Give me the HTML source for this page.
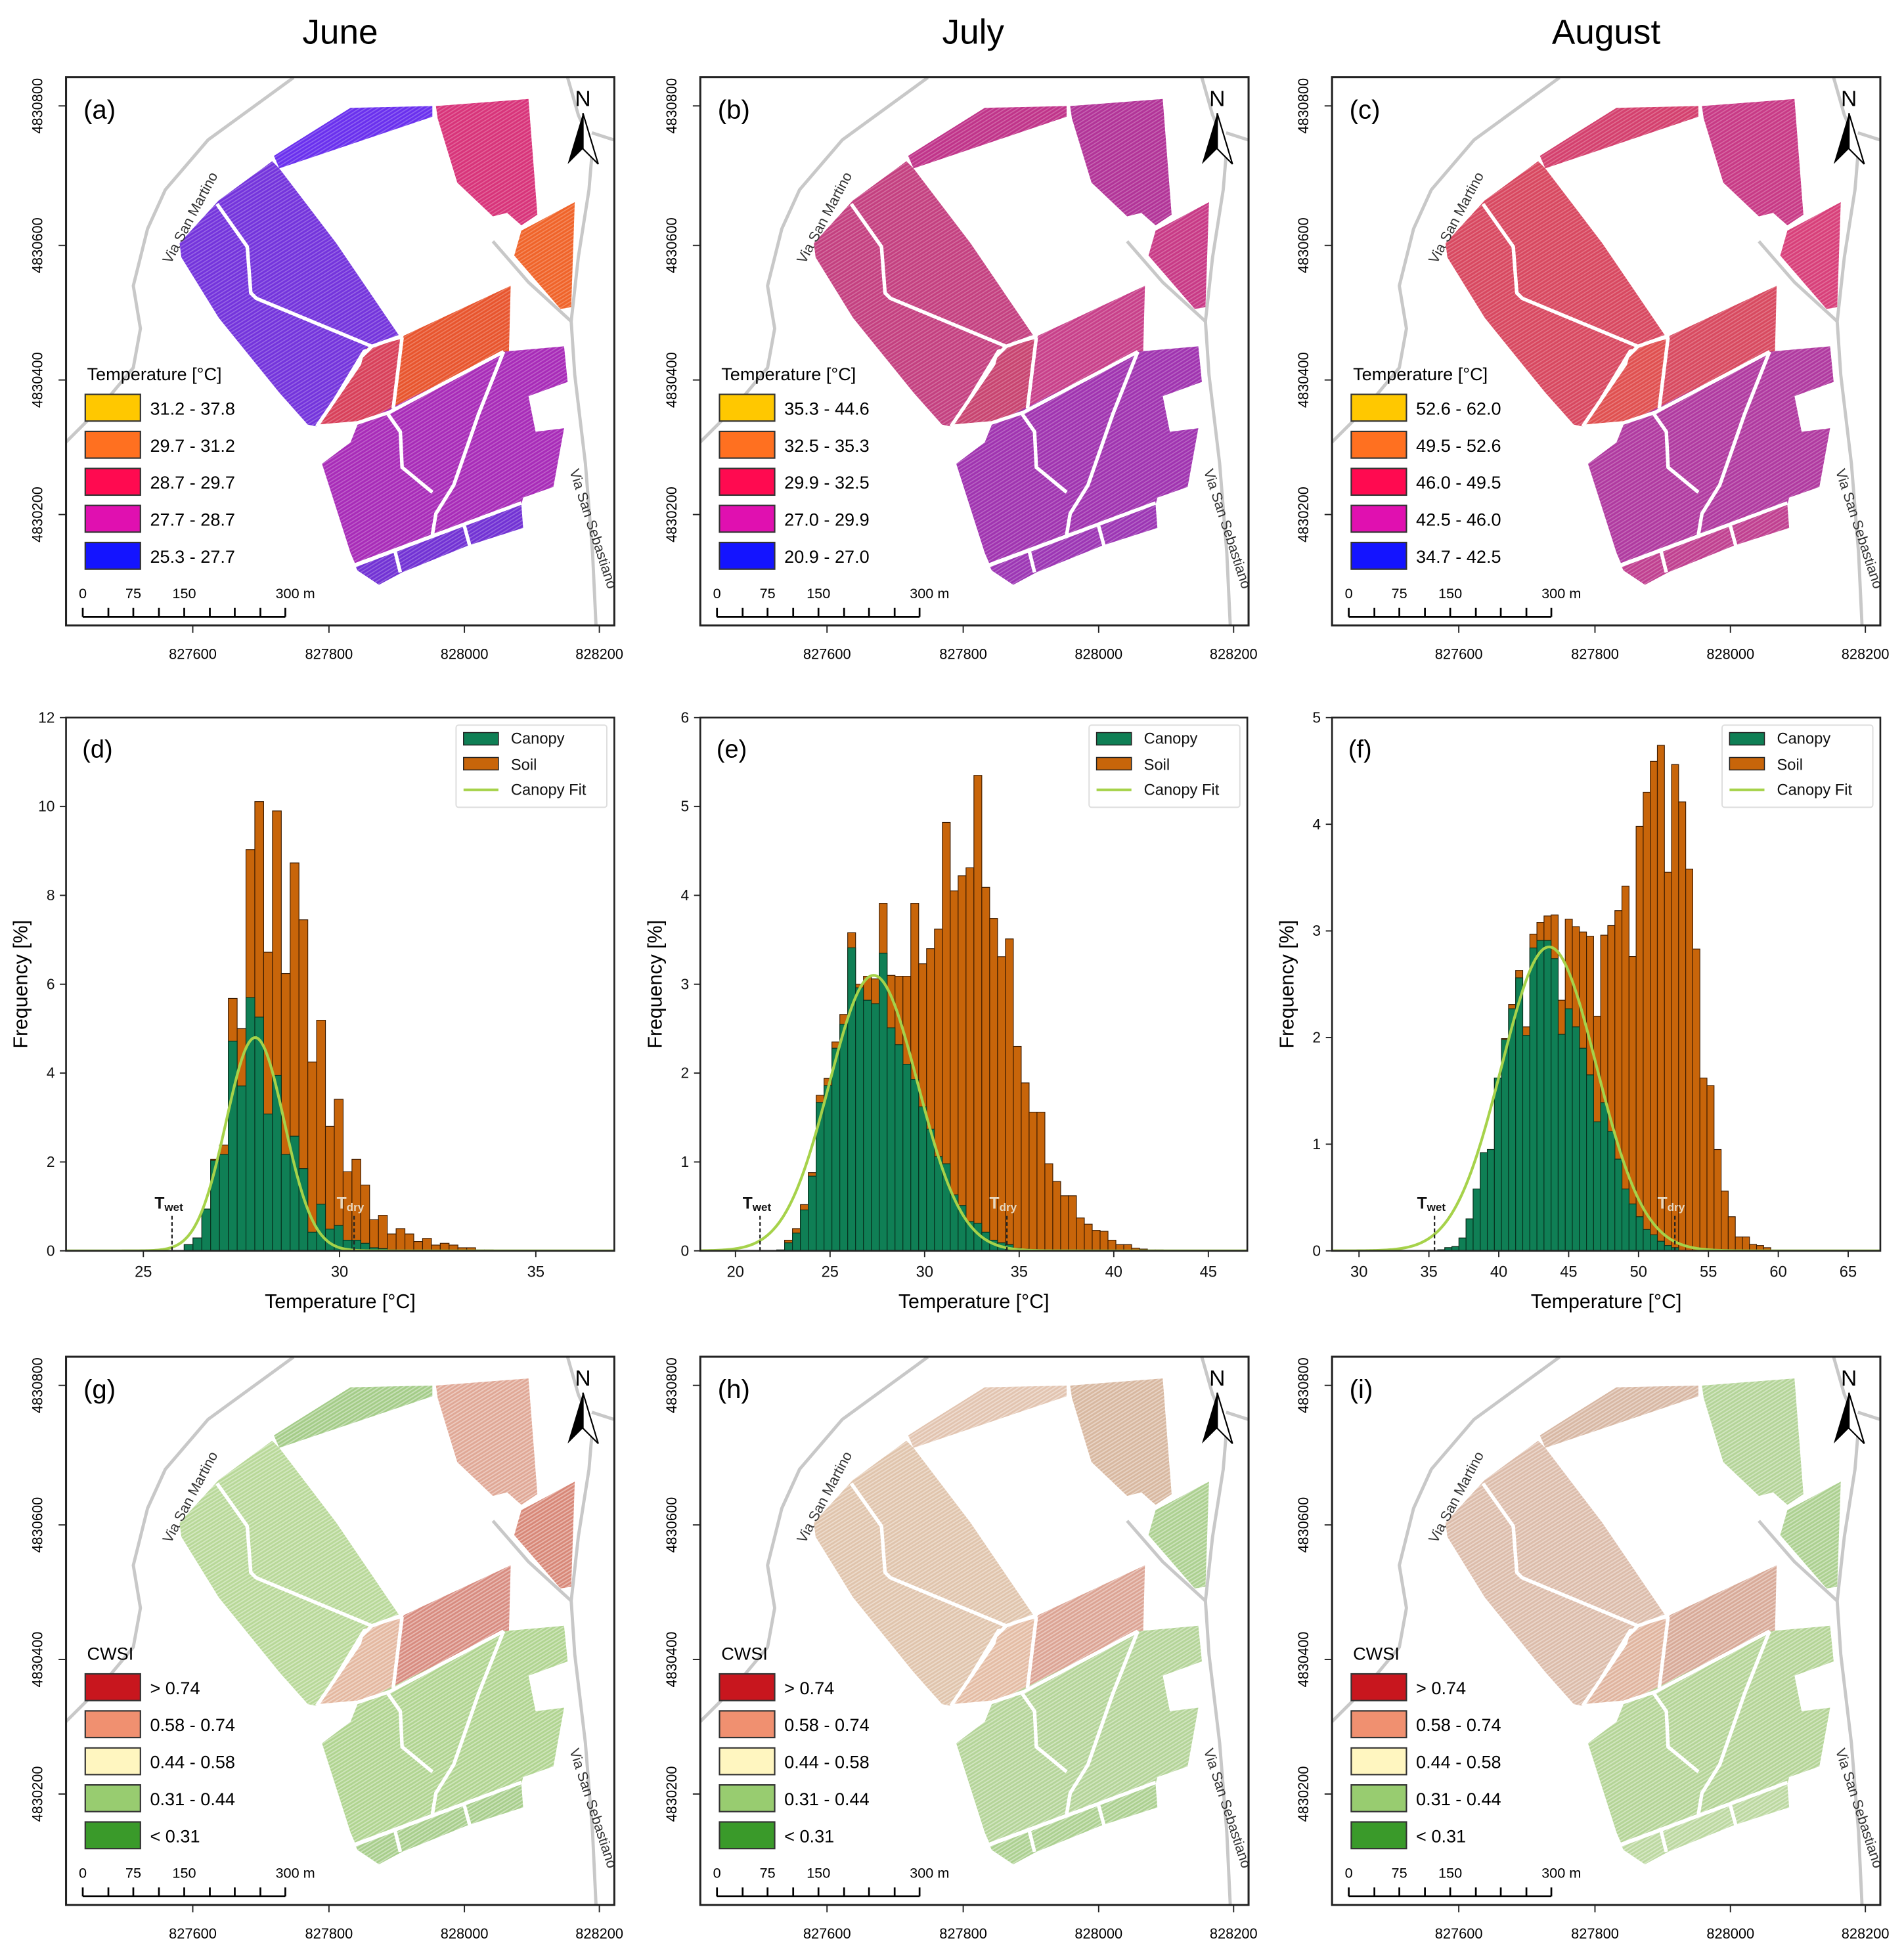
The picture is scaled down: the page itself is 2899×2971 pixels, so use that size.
<!DOCTYPE html>
<html><head><meta charset="utf-8"><title>Thermal maps, histograms and CWSI</title>
<style>
html,body{margin:0;padding:0;background:#fff;}
svg{display:block;font-family:"Liberation Sans",Arial,sans-serif;}
</style></head>
<body>
<svg id="fig" xmlns="http://www.w3.org/2000/svg" width="2899" height="2971" viewBox="0 0 1528 1566" preserveAspectRatio="none">
<defs>
<pattern id="rows" patternUnits="userSpaceOnUse" width="9" height="9" patternTransform="rotate(-32)">
<rect x="0" y="0" width="9" height="3" fill="rgba(255,255,255,0.25)"/>
</pattern>
<pattern id="rowsw" patternUnits="userSpaceOnUse" width="9" height="9" patternTransform="rotate(-32)">
<rect x="0" y="0" width="9" height="3.5" fill="rgba(255,255,255,0.4)"/>
</pattern>
</defs>
<g>
<text x="273" y="35" font-size="28" text-anchor="middle">June</text>
<text x="781" y="35" font-size="28" text-anchor="middle">July</text>
<text x="1289" y="35" font-size="28" text-anchor="middle">August</text>
</g>
<g id="maps"></g>
<g id="hists"></g>
</svg>
<script>
// ---------------- Histogram data ----------------
const dStart = 26.04, dWidth = 0.225;
const dSoil = [0.14,0.29,0.94,2.06,2.38,5.68,5.0,9.03,10.11,6.72,9.9,6.24,8.73,7.45,4.25,5.19,2.8,3.41,1.78,2.06,1.48,0.7,0.8,0.38,0.5,0.38,0.21,0.28,0.13,0.17,0.13,0.07,0.07,0.02,0.02];
const dCanopy = [0.14,0.29,0.94,2.03,2.17,4.72,3.71,5.70,5.26,3.08,3.95,2.17,2.58,1.85,0.42,1.05,0.49,0.57,0.24,0.24,0.17,0.07,0.05,0.02];
const dFit = [4.8, 27.85, 0.74]; // amplitude, mean, sigma
const dMarks = [25.73, 30.37];
const dXTicks = [25,30,35];
const dYTicks = [0,2,4,6,8,10,12];

const eStart = 22.18, eWidth = 0.417;
const eSoil = [0.01,0.12,0.25,0.52,0.88,1.75,1.94,2.35,2.66,3.58,3.0,3.09,3.06,3.91,3.1,3.09,3.09,3.91,3.23,3.4,3.62,4.82,4.05,4.22,4.31,5.35,4.09,3.74,3.31,3.51,2.3,1.89,1.56,1.56,0.98,0.78,0.62,0.62,0.37,0.3,0.23,0.22,0.12,0.07,0.07,0.03,0.02,0.01,0.01];
const eCanopy = [0.01,0.09,0.2,0.46,0.84,1.67,1.86,2.28,2.55,3.41,2.96,2.82,2.78,3.35,2.51,2.32,2.1,1.93,1.62,1.37,1.06,0.98,0.63,0.51,0.33,0.31,0.21,0.12,0.09,0.07,0.03,0.02];
const eFit = [3.1, 27.3, 2.34];
const eMarks = [21.3, 34.35];
const eXTicks = [20,25,30,35,40,45];
const eYTicks = [0,1,2,3,4,5,6];

const fStart = 35.63, fWidth = 0.507;
const fSoil = [0.01,0.03,0.04,0.12,0.3,0.58,0.92,0.95,1.62,1.99,2.31,2.63,2.1,2.97,3.08,3.14,3.15,2.35,3.11,3.04,2.99,2.95,2.2,2.96,3.05,3.19,3.42,2.76,3.98,4.3,4.59,4.74,3.55,4.56,4.21,3.58,2.83,1.62,1.55,0.95,0.56,0.32,0.13,0.13,0.06,0.05,0.03];
const fCanopy = [0.01,0.03,0.04,0.12,0.3,0.58,0.92,0.95,1.62,1.98,2.27,2.56,2.02,2.84,2.91,2.91,2.74,2.03,2.27,2.1,1.9,1.65,1.21,1.39,1.12,0.86,0.58,0.44,0.32,0.2,0.15,0.09,0.05,0.03];
const fFit = [2.85, 43.6, 3.4];
const fMarks = [35.4, 52.6];
const fXTicks = [30,35,40,45,50,55,60,65];
const fYTicks = [0,1,2,3,4,5];

// ---------------- Map legend data ----------------
const tempLabelsJune = ["31.2 - 37.8","29.7 - 31.2","28.7 - 29.7","27.7 - 28.7","25.3 - 27.7"];
const tempLabelsJuly = ["35.3 - 44.6","32.5 - 35.3","29.9 - 32.5","27.0 - 29.9","20.9 - 27.0"];
const tempLabelsAug = ["52.6 - 62.0","49.5 - 52.6","46.0 - 49.5","42.5 - 46.0","34.7 - 42.5"];
const cwsiLabels = ["> 0.74","0.58 - 0.74","0.44 - 0.58","0.31 - 0.44","< 0.31"];
const eastingLabels = ["827600","827800","828000","828200"];
const northingLabels = ["4830800","4830600","4830400","4830200"];

const NS = "http://www.w3.org/2000/svg";
function mk(tag, attrs, parent){
  const el = document.createElementNS(NS, tag);
  for (const k in attrs) el.setAttribute(k, attrs[k]);
  if (parent) parent.appendChild(el);
  return el;
}

// ---------------- Maps ----------------
const fields = [
 [[585,235],[640,200],[720,150],[800,100],[1030,95],[1030,125],[600,270]],
 [[1040,95],[1300,75],[1325,400],[1280,430],[1240,395],[1200,405],[1100,310],[1045,130]],
 [[1280,445],[1430,365],[1420,660],[1390,665],[1260,515]],
 [[580,250],[430,360],[320,480],[325,520],[430,690],[600,900],[680,990],[705,995],[835,780],[940,745],[760,480],[600,270]],
 [[950,740],[1250,600],[1245,790],[915,945],[940,760]],
 [[845,775],[940,750],[915,950],[820,985],[710,995],[830,815]],
 [[820,990],[1230,785],[1400,770],[1410,870],[1300,910],[1320,1010],[1400,1000],[1370,1165],[1285,1195],[1280,1215],[815,1385],[800,1350],[720,1100],[800,1040]],
 [[815,1390],[1280,1215],[1285,1280],[1130,1330],[945,1405],[880,1440],[820,1400]]
];
const whiteRoads = [
 [[425,370],[510,490],[520,620],[535,635],[860,770],[945,740]],
 [[860,770],[830,800],[825,820],[705,995]],
 [[945,745],[920,945]],
 [[705,995],[820,985],[910,955],[1230,785]],
 [[905,960],[940,1010],[945,1110],[1030,1180]],
 [[1230,785],[1160,960],[1090,1160],[1040,1240],[1030,1300]],
 [[810,1385],[1280,1210]],
 [[925,1345],[940,1405]],
 [[1120,1275],[1135,1330]]
];
const greyRoads = [
 [[640,15],[400,190],[280,330],[230,440],[190,600],[210,720],[190,830],[90,950],[0,1040]],
 [[1410,15],[1440,120],[1480,210],[1470,330],[1440,520],[1420,700],[1430,850],[1460,1100],[1480,1350],[1490,1560]],
 [[1200,475],[1300,590],[1420,700]],
 [[1478,170],[1540,190]]
];
const panelColors = {
 a:["#6a30ee","#d8347a","#f0642a","#7434dc","#e8552e","#d8405a","#a82cb8","#7232d4"],
 b:["#c0348a","#b23498","#c83a86","#c44080","#c8408a","#c84470","#a034b0","#9c36b4"],
 c:["#d4406e","#c83a86","#d8407a","#d84860","#d84a60","#e05050","#b03aa0","#c04090"],
 g:["#a4cc88","#e0a896","#d88878","#b8d898","#d88c80","#e4b8a0","#b0d490","#a8ce8c"],
 h:["#e2c4b0","#d8b8a0","#acd090","#e0c4ac","#dca494","#e4bca4","#b4d498","#acd090"],
 i:["#d8b8a4","#b4d498","#acd090","#dcbcaa","#d8aa98","#e0b49e","#b4d496","#bcd8a0"]
};
const tempColors = ["#ffc800","#ff7020","#ff0a50","#e010b0","#1414ff"];
const cwsiColors = ["#c8161e","#f09070","#fff6c0","#98cc70","#3a9a2a"];

const mapPanels = [
 {id:"a", x:53, y:62, type:"temp", labels:tempLabelsJune},
 {id:"b", x:562, y:62, type:"temp", labels:tempLabelsJuly},
 {id:"c", x:1069, y:62, type:"temp", labels:tempLabelsAug},
 {id:"g", x:53, y:1089, type:"cwsi", labels:cwsiLabels},
 {id:"h", x:562, y:1089, type:"cwsi", labels:cwsiLabels},
 {id:"i", x:1069, y:1089, type:"cwsi", labels:cwsiLabels}
];
const mapsG = document.getElementById("maps");
const S = 0.2857;
mapPanels.forEach(p=>{
  const g = mk("g", {}, mapsG);
  
  
  const cp = mk("clipPath", {id:"clip-"+p.id}, g);
  mk("rect", {x:p.x, y:p.y, width:440, height:440}, cp);
  const inner = mk("g", {"clip-path":"url(#clip-"+p.id+")"}, g);
  const t = mk("g", {transform:`translate(${p.x-0.3},${p.y-4}) scale(${S})`}, inner);
  greyRoads.forEach(r=>{
    const pl = mk("polyline", {points:r.map(q=>q.join(",")).join(" "), fill:"none", stroke:"#c8c8c8", "stroke-width":9, "stroke-linejoin":"round"}, t);
    
    
  });
  const cols = panelColors[p.id];
  fields.forEach((f,i)=>{
    const pts = f.map(q=>q.join(",")).join(" ");
    const poly = mk("polygon", {points:pts, fill:cols[i]}, t);
    
    
    mk("polygon", {points:pts, fill: p.type==="cwsi" ? "url(#rowsw)" : "url(#rows)"}, t);
  });
  whiteRoads.forEach(r=>{
    mk("polyline", {points:r.map(q=>q.join(",")).join(" "), fill:"none", stroke:"#fff", "stroke-width":10, "stroke-linejoin":"round"}, t);
  });
  const rl1 = mk("text", {x:0,y:0,"font-size":40,fill:"#333",transform:"translate(295,540) rotate(-62)"}, t);
  rl1.textContent = "Via San Martino";
  
  
  const rl2 = mk("text", {x:0,y:0,"font-size":40,fill:"#333",transform:"translate(1415,1120) rotate(72)"}, t);
  rl2.textContent = "Via San Sebastiano";
  
  
  const na = mk("g", {}, t);
  
  
  const nt = mk("text", {x:1453,y:95,"font-size":62,"text-anchor":"middle",fill:"#000"}, na);
  nt.textContent = "N";
  mk("polygon", {points:"1453,115 1410,258 1453,215", fill:"#000"}, na);
  mk("polygon", {points:"1453,115 1496,258 1453,215", fill:"#fff", stroke:"#000","stroke-width":4}, na);
  const pl = mk("text", {x:50,y:130,"font-size":74,fill:"#000"}, t);
  pl.textContent = "(" + p.id + ")";
  
  
  const lg = mk("g", {}, t);
  
  
  const lt = mk("text", {x:60,y:865,"font-size":50,fill:"#000"}, lg);
  lt.textContent = p.type==="cwsi" ? "CWSI" : "Temperature [°C]";
  const lcols = p.type==="cwsi" ? cwsiColors : tempColors;
  p.labels.forEach((lab,k)=>{
    const y0 = 905 + k*104;
    const r = mk("rect", {x:55,y:y0,width:155,height:75,fill:lcols[k],stroke:"#333","stroke-width":4}, lg);
    
    
    const tx = mk("text", {x:237,y:y0+57,"font-size":50,fill:"#000"}, lg);
    tx.textContent = lab;
    
    
  });
  const sb = mk("g", {}, t);
  
  
  mk("line", {x1:48,y1:1530,x2:617,y2:1530,stroke:"#000","stroke-width":5}, sb);
  [48,120,190,262,333,405,475,547,617].forEach(x=>{
    mk("line", {x1:x,y1:1530,x2:x,y2:1505,stroke:"#000","stroke-width":5}, sb);
  });
  [["0",48],["75",190],["150",333],["300 m",645]].forEach(a=>{
    const tx = mk("text", {x:a[1],y:1478,"font-size":40,"text-anchor":"middle",fill:"#000"}, sb);
    tx.textContent = a[0];
  });
  const fr = mk("rect", {x:p.x,y:p.y,width:440,height:440,fill:"none",stroke:"#222","stroke-width":1.6}, g);
  
  
  const ex = [101.7,211,319.7,428];
  eastingLabels.forEach((lab,k)=>{
    const xx = p.x + ex[k];
    mk("line", {x1:xx,y1:p.y+440,x2:xx,y2:p.y+446,stroke:"#222","stroke-width":1}, g);
    const tx = mk("text", {x:xx,y:p.y+467,"font-size":11.5,"text-anchor":"middle",fill:"#000"}, g);
    tx.textContent = lab;
    
    
  });
  const ny = [23,135,243,351];
  northingLabels.forEach((lab,k)=>{
    const yy = p.y + ny[k];
    mk("line", {x1:p.x-6,y1:yy,x2:p.x,y2:yy,stroke:"#222","stroke-width":1}, g);
    const tx = mk("text", {x:0,y:0,"font-size":11.5,"text-anchor":"middle",fill:"#000",transform:`translate(${p.x-19},${yy}) rotate(-90)`}, g);
    tx.textContent = lab;
    
    
  });
});

// ---------------- Histograms ----------------
const histPanels = [
 {id:"d", x0:53, x1:493, dmin:23.03, dmax:37.0, ymax:12, start:dStart, w:dWidth, soil:dSoil, canopy:dCanopy, fit:dFit, marks:dMarks, xt:dXTicks, yt:dYTicks},
 {id:"e", x0:562, x1:1001, dmin:18.14, dmax:47.06, ymax:6, start:eStart, w:eWidth, soil:eSoil, canopy:eCanopy, fit:eFit, marks:eMarks, xt:eXTicks, yt:eYTicks},
 {id:"f", x0:1069, x1:1509, dmin:28.07, dmax:67.3, ymax:5, start:fStart, w:fWidth, soil:fSoil, canopy:fCanopy, fit:fFit, marks:fMarks, xt:fXTicks, yt:fYTicks}
];
const hY0 = 1004, hY1 = 576;
const histG = document.getElementById("hists");
histPanels.forEach(h=>{
  const g = mk("g", {}, histG);
  
  
  const xs = v => h.x0 + (v - h.dmin) / (h.dmax - h.dmin) * (h.x1 - h.x0);
  const ys = v => hY0 - v / h.ymax * (hY0 - hY1);
  const cp = mk("clipPath", {id:"hclip-"+h.id}, g);
  mk("rect", {x:h.x0, y:hY1, width:h.x1-h.x0, height:hY0-hY1}, cp);
  const inner = mk("g", {"clip-path":"url(#hclip-"+h.id+")"}, g);
  h.soil.forEach((v,i)=>{
    const a = xs(h.start + i*h.w), b = xs(h.start + (i+1)*h.w);
    const r = mk("rect", {x:a, y:ys(v), width:b-a, height:hY0-ys(v), fill:"#c8650a", stroke:"#3a1a00", "stroke-width":0.6}, inner);
    
    
  });
  h.canopy.forEach((v,i)=>{
    if (v <= 0) return;
    const a = xs(h.start + i*h.w), b = xs(h.start + (i+1)*h.w);
    const r = mk("rect", {x:a, y:ys(v), width:b-a, height:hY0-ys(v), fill:"#0f7f55", stroke:"#06301e", "stroke-width":0.6}, inner);
    
    
  });
  const pts = [];
  const N = 300;
  for (let k=0;k<=N;k++){
    const t = h.dmin + (h.dmax-h.dmin)*k/N;
    const v = h.fit[0]*Math.exp(-0.5*Math.pow((t-h.fit[1])/h.fit[2],2));
    pts.push(xs(t).toFixed(2)+","+ys(v).toFixed(2));
  }
  const fl = mk("polyline", {points:pts.join(" "), fill:"none", stroke:"#a6d24a", "stroke-width":2.2}, inner);
  
  
  h.marks.forEach((m,k)=>{
    const mx = xs(m);
    mk("line", {x1:mx,y1:hY0,x2:mx,y2:ys(h.ymax*0.07),stroke:"#222","stroke-width":1.2,"stroke-dasharray":"3,2"}, inner);
    const tx = mk("text", {x:mx-14,y:ys(h.ymax*0.07)-4,"font-size":13,"font-weight":"bold",fill: k===0 ? "#111" : "#e8d8c0"}, inner);
    
    
    const t1 = mk("tspan", {}, tx); t1.textContent = "T";
    const t2 = mk("tspan", {"font-size":9, dy:2}, tx); t2.textContent = k===0 ? "wet" : "dry";
  });
  mk("rect", {x:h.x0,y:hY1,width:h.x1-h.x0,height:hY0-hY1,fill:"none",stroke:"#222","stroke-width":1.4}, g);
  h.xt.forEach(v=>{
    const xx = xs(v);
    mk("line", {x1:xx,y1:hY0,x2:xx,y2:hY0+5,stroke:"#222","stroke-width":1}, g);
    const tx = mk("text", {x:xx,y:hY0+21,"font-size":12.5,"text-anchor":"middle",fill:"#111"}, g);
    tx.textContent = v;
    
    
  });
  h.yt.forEach(v=>{
    const yy = ys(v);
    mk("line", {x1:h.x0-5,y1:yy,x2:h.x0,y2:yy,stroke:"#222","stroke-width":1}, g);
    const tx = mk("text", {x:h.x0-9,y:yy+4,"font-size":12,"text-anchor":"end",fill:"#111"}, g);
    tx.textContent = v;
    
    
  });
  const xl = mk("text", {x:(h.x0+h.x1)/2,y:1050,"font-size":16,"text-anchor":"middle",fill:"#000"}, g);
  xl.textContent = "Temperature [°C]";
  
  
  const yl = mk("text", {x:0,y:0,"font-size":16,"text-anchor":"middle",fill:"#000",transform:`translate(${h.x0-31},${(hY0+hY1)/2}) rotate(-90)`}, g);
  yl.textContent = "Frequency [%]";
  
  
  const lt = mk("text", {x:h.x0+13,y:608,"font-size":20,fill:"#000"}, g);
  lt.textContent = "(" + h.id + ")";
  
  
  const lg = mk("g", {}, g);
  
  
  const lx = h.x1 - 127;
  mk("rect", {x:lx,y:582,width:121,height:66,fill:"#fff",stroke:"#ddd","stroke-width":1,rx:2}, lg);
  mk("rect", {x:lx+6,y:588,width:28,height:10,fill:"#0f7f55",stroke:"#222","stroke-width":0.8}, lg);
  mk("rect", {x:lx+6,y:608,width:28,height:10,fill:"#c8650a",stroke:"#222","stroke-width":0.8}, lg);
  mk("line", {x1:lx+6,y1:634,x2:lx+34,y2:634,stroke:"#a6d24a","stroke-width":2.2}, lg);
  [["Canopy",597],["Soil",618],["Canopy Fit",638]].forEach(a=>{
    const tx = mk("text", {x:lx+44,y:a[1],"font-size":12.5,fill:"#111"}, lg);
    tx.textContent = a[0];
    
    
  });
});
</script>
</body></html>
